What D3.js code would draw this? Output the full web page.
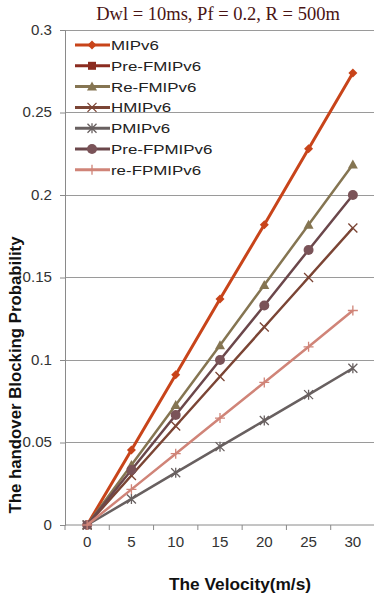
<!DOCTYPE html>
<html><head><meta charset="utf-8">
<script src="https://cdn.jsdelivr.net/npm/d3@7"></script>
<style>body{margin:0;background:#fff}svg{display:block}</style>
</head><body>
<svg id="c" width="374" height="596"></svg>
<script>
const velocities = ["0","5","10","15","20","25","30"];
const yTicks = [0,0.05,0.1,0.15,0.2,0.25,0.3];
const seriesNames = ["MIPv6","Pre-FMIPv6","Re-FMIPv6","HMIPv6","PMIPv6","Pre-FPMIPv6","re-FPMIPv6"];
const mipv6      = [0,0.0455,0.091,0.137,0.182,0.228,0.274];
const preFmipv6  = [0,null,null,null,null,null,null];
const reFmipv6   = [0,0.0364,0.0727,0.109,0.1455,0.182,0.2185];
const hmipv6     = [0,0.030,0.060,0.090,0.120,0.150,0.180];
const pmipv6     = [0,0.0158,0.0317,0.0475,0.0633,0.079,0.095];
const preFpmipv6 = [0,0.0333,0.0667,0.100,0.133,0.1667,0.200];
const reFpmipv6  = [0,0.0216,0.0432,0.0648,0.0864,0.108,0.130];
const seriesValues = [mipv6,preFmipv6,reFmipv6,hmipv6,pmipv6,preFpmipv6,reFpmipv6];

const styles = [
  {color:"#C8441A", mfill:"#C8441A", marker:"diamond", w:3},
  {color:"#8B2C20", mfill:"#8B2C20", marker:"square", w:3},
  {color:"#857552", mfill:"#857552", marker:"triangle", w:2.5},
  {color:"#7B4535", mfill:"none", marker:"x", w:2.5},
  {color:"#686060", mfill:"none", marker:"star", w:2.5},
  {color:"#6B474B", mfill:"#7A5358", marker:"circle", w:2.5},
  {color:"#D08478", mfill:"none", marker:"plus", w:2.5}
];

const svg = d3.select("#c");
const L = 65, R = 375, T = 30, B = 525;
const x = d3.scalePoint().domain(velocities).range([L,R]).padding(0.5);
const xb = d3.scaleBand().domain(velocities).range([L,R]);
const y = d3.scaleLinear().domain([0,0.3]).range([B,T]);

// gridlines
svg.append("g").selectAll("line").data(yTicks.filter(d=>d>0)).join("line")
  .attr("x1",L).attr("x2",374).attr("y1",d=>y(d)).attr("y2",d=>y(d))
  .attr("stroke","#9a9a9a").attr("stroke-width",1).attr("shape-rendering","crispEdges");

// y axis
const yAxis = svg.append("g").attr("transform",`translate(${L},0)`)
  .call(d3.axisLeft(y).tickValues(yTicks).tickSize(5).tickFormat(d=>d===0?"0":String(d)));
yAxis.select(".domain").attr("stroke","#8a8a8a");
yAxis.selectAll(".tick line").attr("stroke","#8a8a8a");
yAxis.selectAll(".tick text").attr("font-family","Liberation Sans, Arial, sans-serif")
  .attr("font-size",14).attr("fill","#333")
  .attr("transform","scale(1.08,1)").attr("x",-13/1.08);

// x axis
const xAxisG = svg.append("g").attr("transform",`translate(0,${B})`);
xAxisG.append("line").attr("x1",L).attr("x2",374).attr("y1",0).attr("y2",0).attr("stroke","#8a8a8a");
xAxisG.selectAll("line.tk").data(velocities).join("line").attr("class","tk")
  .attr("x1",d=>xb(d)).attr("x2",d=>xb(d)).attr("y1",0).attr("y2",5).attr("stroke","#8a8a8a");
xAxisG.selectAll("text").data(velocities).join("text")
  .attr("transform",d=>`translate(${x(d)},22) scale(1.08,1)`)
  .attr("text-anchor","middle").attr("font-family","Liberation Sans, Arial, sans-serif")
  .attr("font-size",14).attr("fill","#333").text(d=>d);

// markers
function drawMarker(g, type, fill, stroke){
  const k = 4.5;
  if(type==="diamond") g.append("path").attr("d",`M0,${-k}L${k},0L0,${k}L${-k},0Z`).attr("fill",fill);
  else if(type==="square") g.append("rect").attr("x",-4).attr("y",-4).attr("width",8).attr("height",8).attr("fill",fill);
  else if(type==="triangle") g.append("path").attr("d",`M0,-5L5,4L-5,4Z`).attr("fill",fill);
  else if(type==="circle") g.append("circle").attr("r",5).attr("fill",fill);
  else if(type==="x") g.append("path").attr("d","M-4.5,-4.5L4.5,4.5M-4.5,4.5L4.5,-4.5").attr("stroke",stroke).attr("stroke-width",1.3).attr("fill","none");
  else if(type==="star") g.append("path").attr("d","M-4.5,-4.5L4.5,4.5M-4.5,4.5L4.5,-4.5M0,-5L0,5").attr("stroke",stroke).attr("stroke-width",1.3).attr("fill","none");
  else if(type==="plus") g.append("path").attr("d","M-5,0L5,0M0,-5L0,5").attr("stroke",stroke).attr("stroke-width",1.3).attr("fill","none");
}

const line = d3.line().defined(d=>d.v!==null).x(d=>x(d.c)).y(d=>y(d.v));
seriesValues.forEach((vals,i)=>{
  const st = styles[i];
  const pts = vals.map((v,j)=>({c:velocities[j],v}));
  const g = svg.append("g");
  g.append("path").datum(pts).attr("d",line).attr("fill","none")
    .attr("stroke",st.color).attr("stroke-width",st.w).attr("stroke-linejoin","round");
  pts.filter(p=>p.v!==null).forEach(p=>{
    const mg = g.append("g").attr("transform",`translate(${x(p.c)},${y(p.v)})`);
    drawMarker(mg, st.marker, st.mfill, st.color);
  });
});

// legend
const lg = svg.append("g");
seriesNames.forEach((n,i)=>{
  const st = styles[i];
  const yy = 45 + i*20.8;
  lg.append("line").attr("x1",75).attr("x2",110).attr("y1",yy).attr("y2",yy)
    .attr("stroke",st.color).attr("stroke-width",3);
  const mg = lg.append("g").attr("transform",`translate(92,${yy})`);
  drawMarker(mg, st.marker, st.mfill, st.color);
  lg.append("text").attr("transform",`translate(111,${yy+5}) scale(1.3,1)`)
    .attr("font-family","Liberation Sans, Arial, sans-serif").attr("font-size",13)
    .attr("fill","#222").text(n);
});

// title
svg.append("text").attr("x",218).attr("y",20).attr("text-anchor","middle")
  .attr("font-family","Liberation Serif, Times New Roman, serif").attr("font-size",18.5)
  .attr("fill","#4a1414").text("Dwl = 10ms, Pf = 0.2, R = 500m");

// axis titles
svg.append("text").attr("transform","translate(21,375) rotate(-90) scale(1.05,1)").attr("text-anchor","middle")
  .attr("font-family","Liberation Sans, Arial, sans-serif").attr("font-size",16).attr("font-weight","bold")
  .attr("fill","#111").text("The handover Blocking Probability");
svg.append("text").attr("transform","translate(240,590) scale(1.08,1)").attr("text-anchor","middle")
  .attr("font-family","Liberation Sans, Arial, sans-serif").attr("font-size",16).attr("font-weight","bold")
  .attr("fill","#111").text("The Velocity(m/s)");
</script>
</body></html>
